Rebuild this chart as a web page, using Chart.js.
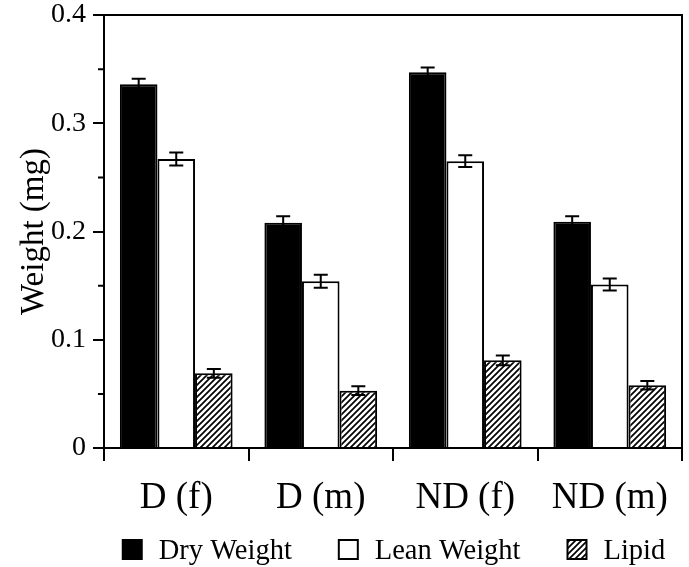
<!DOCTYPE html>
<html lang="en">
<head>
<meta charset="UTF-8">
<title>Weight by group</title>
<script src="https://cdn.jsdelivr.net/npm/chart.js"></script>
<style>
  body { margin: 0; background: #fff; }
  #chart { display: block; }
</style>
</head>
<body>
<canvas id="chart" width="689" height="567"></canvas>
<script>
  // values (mg)
  const groups = ['D (f)', 'D (m)', 'ND (f)', 'ND (m)'];
  const seriesNames = ['Dry Weight', 'Lean Weight', 'Lipid'];
  const dryWeight = [0.336, 0.208, 0.347, 0.209];
  const dryErr = [0.005, 0.006, 0.0045, 0.005];
  const leanWeight = [0.267, 0.154, 0.265, 0.151];
  const leanErr = [0.006, 0.006, 0.0055, 0.0055];
  const lipid = [0.069, 0.053, 0.081, 0.058];
  const lipidErr = [0.004, 0.004, 0.0045, 0.004];
  const yTickLabels = ['0', '0.1', '0.2', '0.3', '0.4'];
  const yMinorTicks = [0.05, 0.15, 0.25, 0.35];

  const SERIF = '"Liberation Serif", "Times New Roman", serif';

  // diagonal hatch for the lipid bars
  function makeHatch() {
    const c = document.createElement('canvas');
    c.width = 6; c.height = 6;
    const g = c.getContext('2d');
    g.fillStyle = '#fff';
    g.fillRect(0, 0, 6, 6);
    g.strokeStyle = '#000';
    g.lineWidth = 1.7;
    g.beginPath();
    g.moveTo(-1, 7); g.lineTo(7, -1);
    g.moveTo(-1, 1); g.lineTo(1, -1);
    g.moveTo(5, 7); g.lineTo(7, 5);
    g.stroke();
    return g.createPattern(c, 'repeat');
  }
  const hatch = makeHatch();

  const errorBars = {
    id: 'errorBars',
    afterDatasetsDraw(chart) {
      const ctx = chart.ctx;
      const y = chart.scales.y;
      ctx.save();
      ctx.strokeStyle = '#000';
      ctx.lineWidth = 2;
      chart.data.datasets.forEach((ds, i) => {
        chart.getDatasetMeta(i).data.forEach((bar, j) => {
          const top = y.getPixelForValue(ds.data[j] + ds.errors[j]);
          const bot = y.getPixelForValue(ds.data[j] - ds.errors[j]);
          ctx.beginPath();
          ctx.moveTo(bar.x, top); ctx.lineTo(bar.x, bot);
          ctx.moveTo(bar.x - 7, top); ctx.lineTo(bar.x + 7, top);
          ctx.moveTo(bar.x - 7, bot); ctx.lineTo(bar.x + 7, bot);
          ctx.stroke();
        });
      });
      ctx.restore();
    }
  };

  // box frame, minor y ticks and the legend row
  const frame = {
    id: 'frame',
    afterDraw(chart) {
      const { ctx, chartArea: a, scales: { y } } = chart;
      ctx.save();
      ctx.strokeStyle = '#000';
      ctx.lineWidth = 2;
      ctx.beginPath();
      ctx.moveTo(a.left, a.top);
      ctx.lineTo(a.right, a.top);
      ctx.lineTo(a.right, a.bottom);
      yMinorTicks.forEach(v => {
        const py = y.getPixelForValue(v);
        ctx.moveTo(a.left - 6, py);
        ctx.lineTo(a.left, py);
      });
      ctx.stroke();

      ctx.font = '28.5px ' + SERIF;
      ctx.textBaseline = 'alphabetic';
      const box = 19, gapText = 17, gapItem = 47;
      const widths = seriesNames.map(n => ctx.measureText(n).width);
      const total = widths.reduce((s, w) => s + box + gapText + w, 0) + gapItem * (seriesNames.length - 1);
      let x = (a.left + a.right) / 2 - total / 2 + 1;
      const boxTop = 540;
      chart.data.datasets.forEach((ds, i) => {
        ctx.fillStyle = ds.backgroundColor;
        ctx.fillRect(x, boxTop, box, box);
        ctx.strokeRect(x, boxTop, box, box);
        ctx.fillStyle = '#000';
        ctx.fillText(seriesNames[i], x + box + gapText, boxTop + box);
        x += box + gapText + widths[i] + gapItem;
      });
      ctx.restore();
    }
  };

  new Chart(document.getElementById('chart'), {
    type: 'bar',
    data: {
      labels: groups,
      datasets: [
        { label: seriesNames[0], data: dryWeight, errors: dryErr, backgroundColor: '#000' },
        { label: seriesNames[1], data: leanWeight, errors: leanErr, backgroundColor: '#fff' },
        { label: seriesNames[2], data: lipid, errors: lipidErr, backgroundColor: hatch }
      ]
    },
    options: {
      responsive: false,
      animation: false,
      layout: { padding: { top: 15, right: 7, left: 0, bottom: 0 } },
      datasets: {
        bar: {
          borderColor: '#000',
          borderWidth: 2,
          categoryPercentage: 0.78,
          barPercentage: 1.0
        }
      },
      plugins: {
        legend: { display: false },
        tooltip: { enabled: false }
      },
      scales: {
        x: {
          afterFit: s => { s.height = 119; },
          grid: { offset: true, drawOnChartArea: false, drawTicks: true, tickLength: 13, color: '#000', lineWidth: 2 },
          border: { color: '#000', width: 2 },
          ticks: { color: '#000', padding: 15, font: { family: SERIF, size: 37 } }
        },
        y: {
          min: 0,
          max: 0.4,
          afterFit: s => { s.width = 104; s.paddingTop = 0; s.paddingBottom = 0; },
          grid: { drawOnChartArea: false, drawTicks: true, tickLength: 11, color: '#000', lineWidth: 2 },
          border: { color: '#000', width: 2 },
          ticks: {
            stepSize: 0.1,
            color: '#000',
            padding: 7,
            font: { family: SERIF, size: 28 },
            callback: (v, i) => yTickLabels[i]
          },
          title: {
            display: true,
            text: 'Weight (mg)',
            color: '#000',
            padding: { top: 15, bottom: 0 },
            font: { family: SERIF, size: 33 }
          }
        }
      }
    },
    plugins: [errorBars, frame]
  });
</script>
</body>
</html>
